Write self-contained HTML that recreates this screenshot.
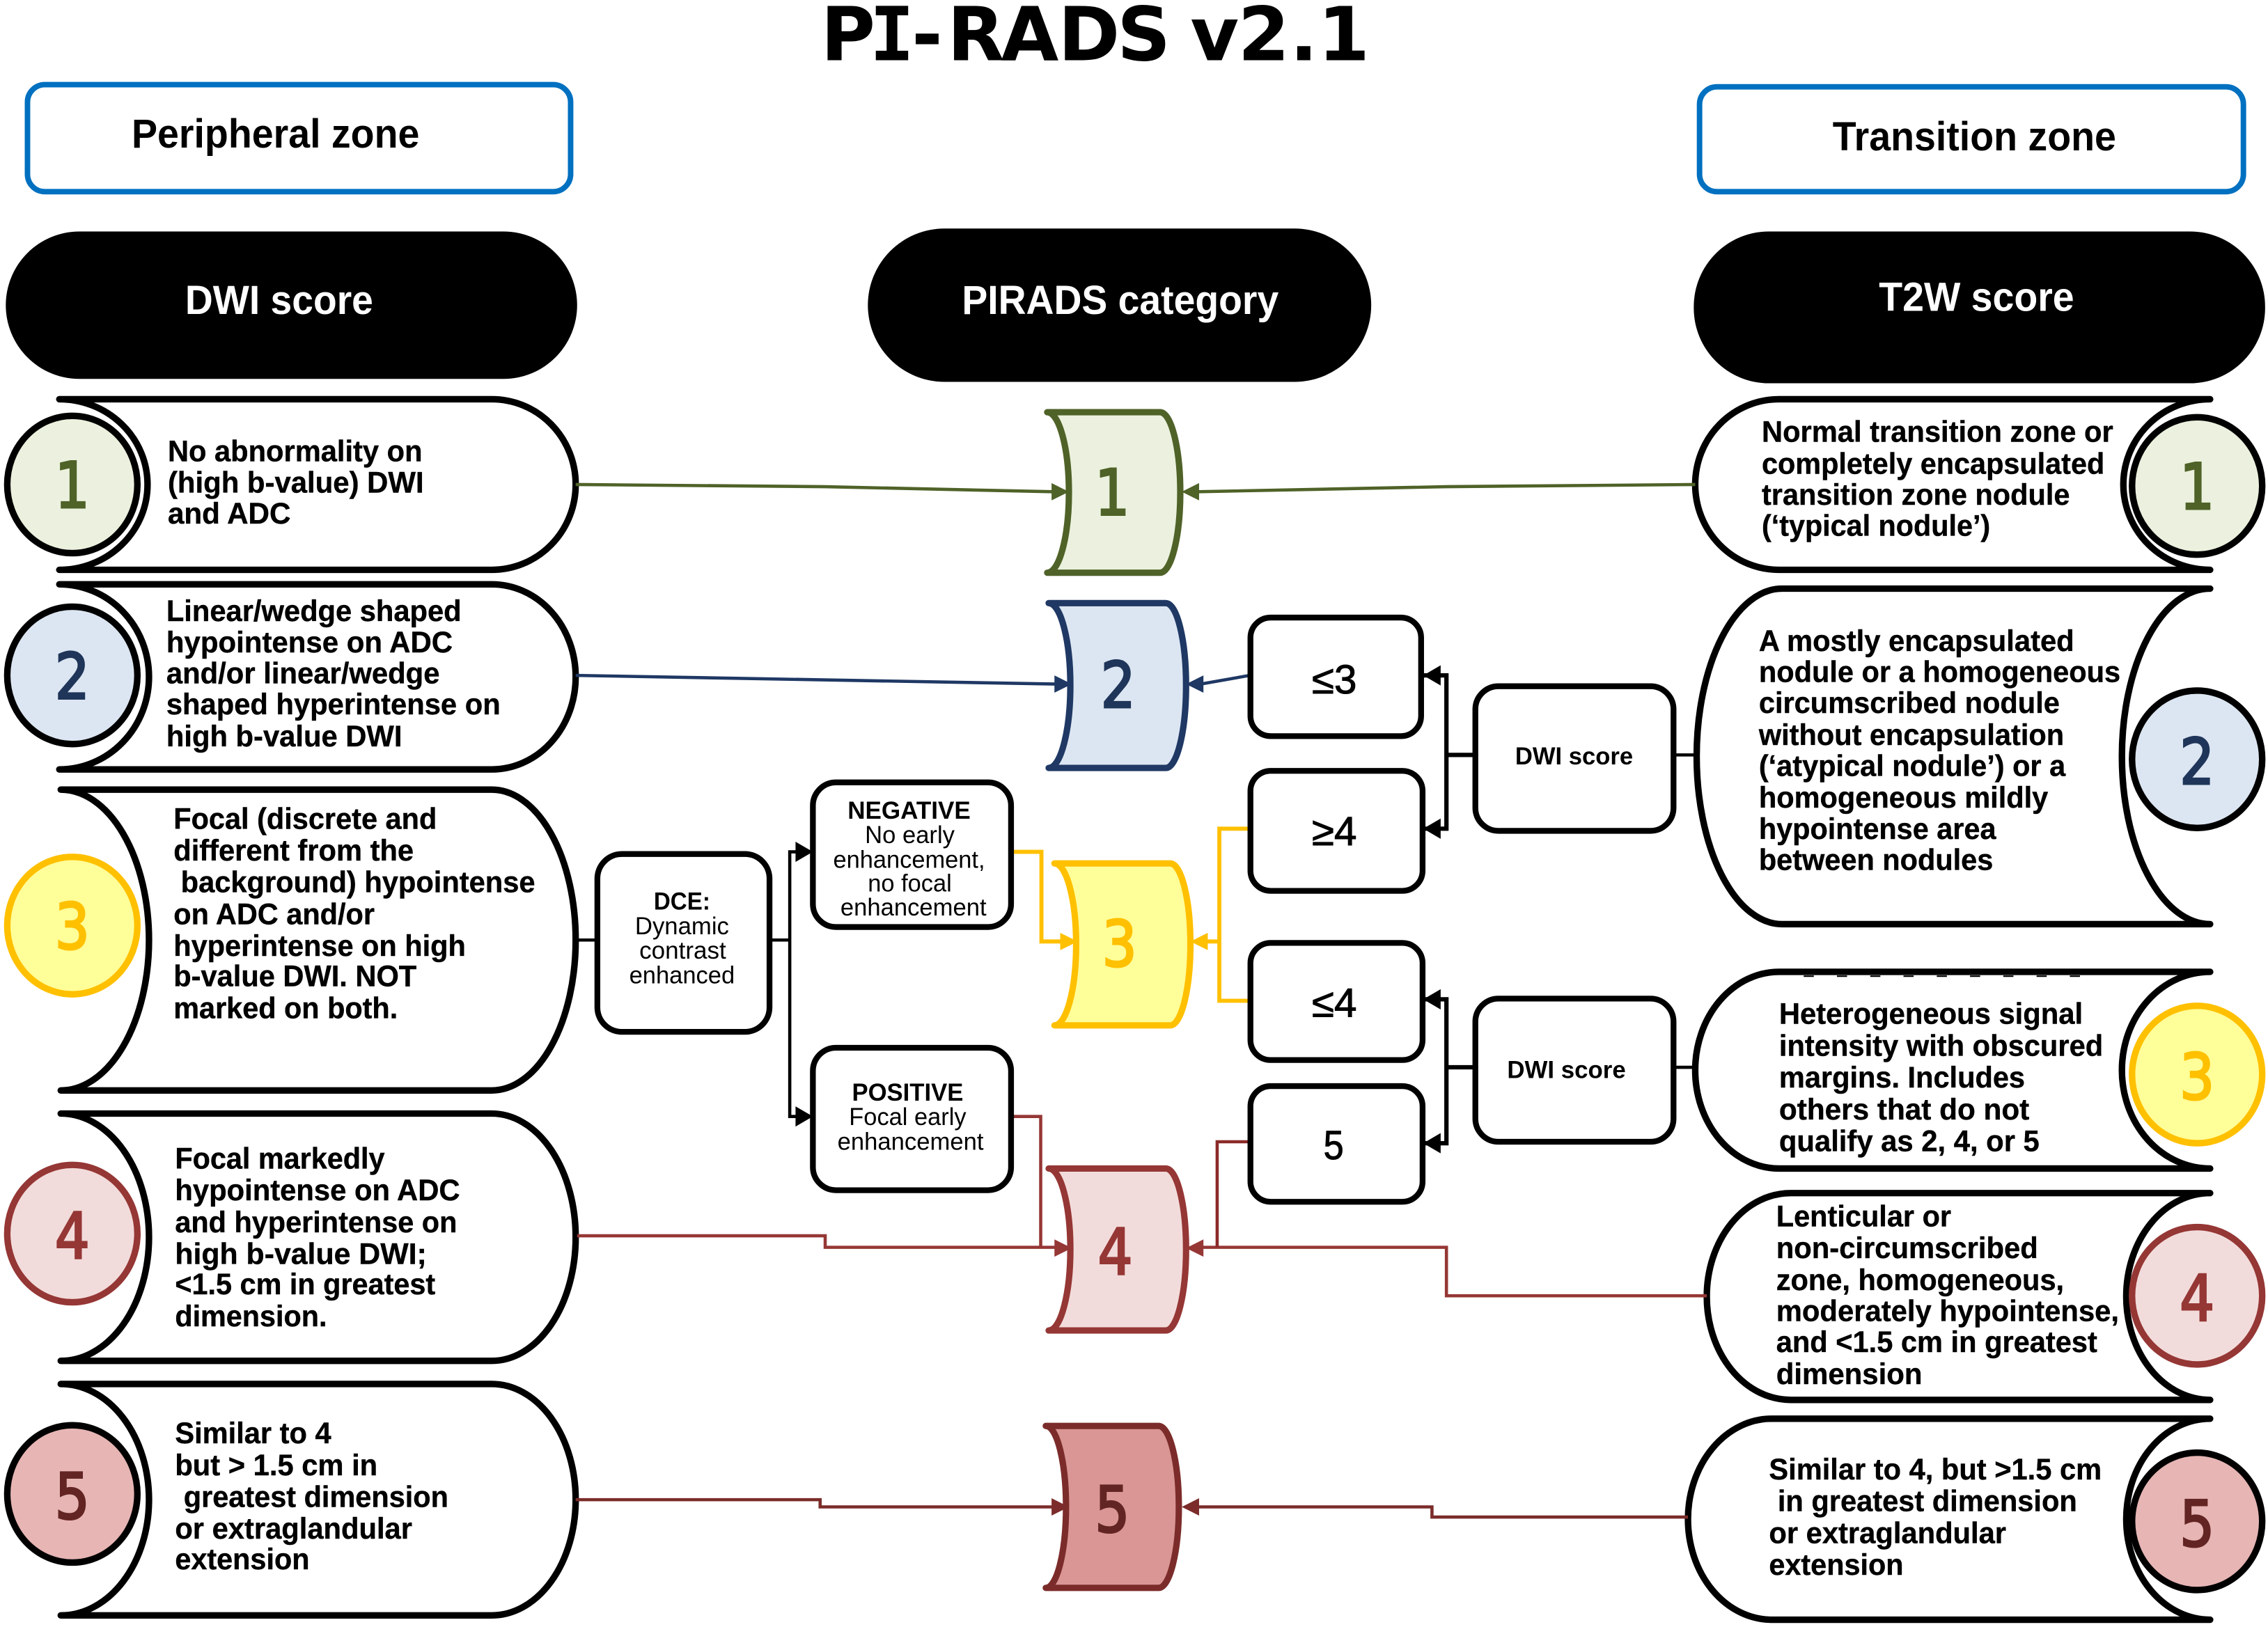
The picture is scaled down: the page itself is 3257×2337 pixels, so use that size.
<!DOCTYPE html>
<html lang="en"><head><meta charset="utf-8"><title>PI-RADS v2.1</title>
<style>
html,body{margin:0;padding:0;background:#fff}
svg{display:block}
text{font-family:"Liberation Sans",sans-serif}
.b{font-weight:bold;font-size:20.5px;fill:#000;stroke:#000;stroke-width:.2}
.h{font-weight:bold;font-size:28px}
text.n{font-family:"DejaVu Sans","Liberation Sans",sans-serif;font-weight:normal;font-size:44px;text-anchor:middle;stroke-width:1.5}
.s{font-size:17px;fill:#000}
.sb{font-size:17px;font-weight:bold;fill:#000}
.c{font-size:28px;fill:#000;stroke:#000;stroke-width:.5}
.sh{fill:#fff;stroke:#000;stroke-width:4.5;stroke-linejoin:round;stroke-linecap:round}
.bx{fill:#fff;stroke:#000;stroke-width:4}
.l{fill:none;stroke-width:2.2}
.cat{stroke-width:4.4;stroke-linejoin:round;stroke-linecap:round}
</style></head><body>
<svg xmlns="http://www.w3.org/2000/svg" width="3257" height="2337" viewBox="0 0 1568 1125">
<rect width="1568" height="1125" fill="#fff"/>
<text x="586.3 616.7 641 674.7 712 752.9 790.8 815 839.7 873.7 901.4 929" y="41.500" font-size="51.500" font-weight="bold" fill="#000" text-anchor="middle" style='font-family:"DejaVu Sans","Liberation Sans",sans-serif'>P<tspan style='font-family:"DejaVu Sans Mono","Liberation Mono",monospace'>I</tspan>-RADS v2.1</text>

<rect x="19" y="58.500" width="375.500" height="74" rx="12" fill="#fff" stroke="#0070c0" stroke-width="3.800"/>
<rect x="1175" y="60" width="376" height="72.500" rx="12" fill="#fff" stroke="#0070c0" stroke-width="3.800"/>
<text class="h" x="91" y="102" textLength="199" lengthAdjust="spacingAndGlyphs">Peripheral zone</text>
<text class="h" x="1267" y="104" textLength="196" lengthAdjust="spacingAndGlyphs">Transition zone</text>

<rect x="4" y="160" width="395" height="102" rx="51" ry="51" fill="#000"/>
<rect x="600" y="158" width="348" height="106" rx="53" ry="53" fill="#000"/>
<rect x="1171" y="160" width="395" height="105" rx="52" ry="52" fill="#000"/>
<text class="h" fill="#fff" x="128" y="217" textLength="130" lengthAdjust="spacingAndGlyphs">DWI score</text>
<text class="h" fill="#fff" x="665" y="217" textLength="219" lengthAdjust="spacingAndGlyphs">PIRADS category</text>
<text class="h" fill="#fff" x="1299" y="215" textLength="135" lengthAdjust="spacingAndGlyphs">T2W score</text>

<!-- left scrolls -->
<path class="sh" d="M41 276H340A58 59 0 0 1 340 394H41A61 59 0 0 0 41 276Z"/>
<path class="sh" d="M41 404H340A58 64 0 0 1 340 532H41A62 64 0 0 0 41 404Z"/>
<path class="sh" d="M42 546H340A58 104 0 0 1 340 754H42A61 104 0 0 0 42 546Z"/>
<path class="sh" d="M42 770H340A58 85.500 0 0 1 340 941H42A61 85.500 0 0 0 42 770Z"/>
<path class="sh" d="M42 957H340A58 80 0 0 1 340 1117H42A61 80 0 0 0 42 957Z"/>
<!-- right scrolls -->
<path class="sh" d="M1528 276H1230A58 59 0 0 0 1230 394H1528A60 59 0 0 1 1528 276Z"/>
<path class="sh" d="M1528 407H1232A59 116 0 0 0 1232 639H1528A61 116 0 0 1 1528 407Z"/>
<path class="sh" d="M1528 672H1230A58 68 0 0 0 1230 808H1528A61 68 0 0 1 1528 672Z"/>
<path class="sh" d="M1528 825H1238A58 71.500 0 0 0 1238 968H1528A58 71.500 0 0 1 1528 825Z"/>
<path class="sh" d="M1528 981H1225A58 69.500 0 0 0 1225 1120H1528A58 69.500 0 0 1 1528 981Z"/>
<line x1="1247" y1="675" x2="1447" y2="675" stroke="#000" stroke-width="1" stroke-dasharray="7 16"/>

<!-- left circles -->
<ellipse cx="50" cy="335" rx="45" ry="47.500" fill="#ebf1de" stroke="#000" stroke-width="4.500"/>
<ellipse cx="50" cy="467" rx="45" ry="47.500" fill="#dce6f2" stroke="#000" stroke-width="4.500"/>
<ellipse cx="50" cy="640" rx="45" ry="47.500" fill="#ffff99" stroke="#ffc000" stroke-width="4.500"/>
<ellipse cx="50" cy="853" rx="45" ry="47.500" fill="#f2dcdb" stroke="#953735" stroke-width="4.500"/>
<ellipse cx="50" cy="1033" rx="45" ry="47.500" fill="#e6b5b4" stroke="#000" stroke-width="4.500"/>
<!-- right circles -->
<ellipse cx="1519" cy="336" rx="45" ry="47.500" fill="#ebf1de" stroke="#000" stroke-width="4.500"/>
<ellipse cx="1519" cy="525" rx="45" ry="47.500" fill="#dce6f2" stroke="#000" stroke-width="4.500"/>
<ellipse cx="1519" cy="743" rx="45" ry="47.500" fill="#ffff99" stroke="#ffc000" stroke-width="4.500"/>
<ellipse cx="1519" cy="896" rx="45" ry="47.500" fill="#f2dcdb" stroke="#953735" stroke-width="4.500"/>
<ellipse cx="1519" cy="1052" rx="45" ry="47.500" fill="#e6b5b4" stroke="#000" stroke-width="4.500"/>

<text class="n" x="50" y="351" fill="#4f6228" stroke="#4f6228" textLength="24" lengthAdjust="spacingAndGlyphs">1</text>
<text class="n" x="50" y="483" fill="#1f3559" stroke="#1f3559" textLength="24" lengthAdjust="spacingAndGlyphs">2</text>
<text class="n" x="50" y="656" fill="#ffc000" stroke="#ffc000" textLength="24" lengthAdjust="spacingAndGlyphs">3</text>
<text class="n" x="50" y="870" fill="#953735" stroke="#953735" textLength="24" lengthAdjust="spacingAndGlyphs">4</text>
<text class="n" x="50" y="1050" fill="#632523" stroke="#632523" textLength="24" lengthAdjust="spacingAndGlyphs">5</text>
<text class="n" x="1519" y="352" fill="#4f6228" stroke="#4f6228" textLength="24" lengthAdjust="spacingAndGlyphs">1</text>
<text class="n" x="1519" y="542" fill="#1f3559" stroke="#1f3559" textLength="24" lengthAdjust="spacingAndGlyphs">2</text>
<text class="n" x="1519" y="760" fill="#ffc000" stroke="#ffc000" textLength="24" lengthAdjust="spacingAndGlyphs">3</text>
<text class="n" x="1519" y="913" fill="#953735" stroke="#953735" textLength="24" lengthAdjust="spacingAndGlyphs">4</text>
<text class="n" x="1519" y="1069" fill="#632523" stroke="#632523" textLength="24" lengthAdjust="spacingAndGlyphs">5</text>

<!-- connectors -->
<path class="l" stroke="#4f6228" d="M398 335L570 336.500L728 340"/>
<path class="l" stroke="#4f6228" d="M1172 335L1000 336.500L828 340"/>
<path class="l" stroke="#1f3864" d="M398 467L730 473"/>
<path class="l" stroke="#1f3864" d="M864 467L830 473"/>
<path class="l" stroke="#000" style="stroke-width:3" d="M1020 522H1000M976 467H1000V573H976"/>
<path class="l" stroke="#000" style="stroke-width:3" d="M1020 738H1000M976 691H1000V790.500H976"/>
<path class="l" stroke="#000" d="M1157 522H1172M1157 738H1172M398 650H413M532 650H546"/>
<path class="l" stroke="#000" d="M554 589H546V772H554"/>
<path class="l" stroke="#ffc000" style="stroke-width:2.800" d="M700 589H720V651H735"/>
<path class="l" stroke="#ffc000" style="stroke-width:2.800" d="M864 573H843V692H864M843 651H832"/>
<path class="l" stroke="#953735" d="M700 772H719.500V862.500"/>
<path class="l" stroke="#953735" d="M399 854.500H570.500V862.500H730"/>
<path class="l" stroke="#953735" d="M1180 896H1000V862.500H830"/>
<path class="l" stroke="#8b2a28" d="M864 789.500H841.500V862.500"/>
<path class="l" stroke="#7b2c2a" d="M398 1037H567V1042H729"/>
<path class="l" stroke="#7b2c2a" d="M1167 1049H990V1042H826"/>

<!-- category shapes -->
<path class="cat" fill="#ebf1de" stroke="#4f6228" d="M724 285H802A14 55.500 0 0 1 802 396H724A15 55.500 0 0 0 724 285Z"/>
<path class="cat" fill="#dce6f2" stroke="#1f3864" d="M725 417H806A14 57 0 0 1 806 531H725A15 57 0 0 0 725 417Z"/>
<path class="cat" fill="#ffff99" stroke="#ffc000" d="M729 597H809A14 56 0 0 1 809 709H729A15 56 0 0 0 729 597Z"/>
<path class="cat" fill="#f2dcdb" stroke="#953735" d="M725 808H806A14 56 0 0 1 806 920H725A15 56 0 0 0 725 808Z"/>
<path class="cat" fill="#d99694" stroke="#7b2c2a" d="M723 986H801A14 56 0 0 1 801 1098H723A14 56 0 0 0 723 986Z"/>
<text class="n" x="769" y="356" fill="#4f6228" stroke="#4f6228" textLength="24" lengthAdjust="spacingAndGlyphs">1</text>
<text class="n" x="773" y="489" fill="#1f3559" stroke="#1f3559" textLength="24" lengthAdjust="spacingAndGlyphs">2</text>
<text class="n" x="774" y="668" fill="#ffc000" stroke="#ffc000" textLength="24" lengthAdjust="spacingAndGlyphs">3</text>
<text class="n" x="771" y="881" fill="#953735" stroke="#953735" textLength="24" lengthAdjust="spacingAndGlyphs">4</text>
<text class="n" x="769" y="1059" fill="#632523" stroke="#632523" textLength="24" lengthAdjust="spacingAndGlyphs">5</text>

<!-- arrowheads -->
<path fill="#4f6228" d="M739 340l-12-6v12zM817 340l12-6v12z"/>
<path fill="#1f3864" d="M741 473l-12-6v12zM820 473l12-6v12z"/>
<path fill="#ffc000" d="M745 651l-12-6v12zM823 651l12-6v12z"/>
<path fill="#953735" d="M741 863l-12-6v12zM820 863l12-6v12z"/>
<path fill="#7b2c2a" d="M739 1042l-12-6v12zM817 1042l12-6v12z"/>
<path fill="#000" d="M984 467l12-7v14zM984 573l12-7v14zM984 691l12-7v14zM984 790.500l12-7v14zM562 589l-12-7v14zM562 772l-12-7v14z"/>

<!-- boxes -->
<rect class="bx" x="864.500" y="427" width="118" height="82" rx="14"/>
<rect class="bx" x="864.500" y="533" width="119" height="83" rx="14"/>
<rect class="bx" x="864.500" y="652" width="119" height="81" rx="14"/>
<rect class="bx" x="864.500" y="751" width="119" height="80" rx="14"/>
<rect class="bx" x="1020" y="474.500" width="137" height="100" rx="16"/>
<rect class="bx" x="1020" y="690.500" width="137" height="99" rx="16"/>
<rect class="bx" x="413" y="590.500" width="119" height="123" rx="17"/>
<rect class="bx" x="562" y="541" width="137" height="100" rx="16"/>
<rect class="bx" x="562" y="724.500" width="137" height="98.500" rx="16"/>

<text class="c" x="907" y="479.500" textLength="31" lengthAdjust="spacingAndGlyphs">≤3</text>
<text class="c" x="907" y="584.500" textLength="31" lengthAdjust="spacingAndGlyphs">≥4</text>
<text class="c" x="907" y="703" textLength="31" lengthAdjust="spacingAndGlyphs">≤4</text>
<text class="c" x="915" y="801.500" textLength="14" lengthAdjust="spacingAndGlyphs">5</text>
<text class="sb" x="1047.500" y="528.500" textLength="81.500" lengthAdjust="spacingAndGlyphs">DWI score</text>
<text class="sb" x="1042" y="745.500" textLength="82" lengthAdjust="spacingAndGlyphs">DWI score</text>

<text class="sb" x="452" y="629" textLength="39" lengthAdjust="spacingAndGlyphs">DCE:</text>
<text class="s" x="439" y="646" textLength="65" lengthAdjust="spacingAndGlyphs">Dynamic</text>
<text class="s" x="442" y="663" textLength="60" lengthAdjust="spacingAndGlyphs">contrast</text>
<text class="s" x="435" y="680" textLength="73" lengthAdjust="spacingAndGlyphs">enhanced</text>
<text class="sb" x="586" y="566" textLength="85" lengthAdjust="spacingAndGlyphs">NEGATIVE</text>
<text class="s" x="598" y="583" textLength="62" lengthAdjust="spacingAndGlyphs">No early</text>
<text class="s" x="576" y="600" textLength="105" lengthAdjust="spacingAndGlyphs">enhancement,</text>
<text class="s" x="600" y="616.500" textLength="58" lengthAdjust="spacingAndGlyphs">no focal</text>
<text class="s" x="581" y="633" textLength="101" lengthAdjust="spacingAndGlyphs">enhancement</text>
<text class="sb" x="589" y="761" textLength="77" lengthAdjust="spacingAndGlyphs">POSITIVE</text>
<text class="s" x="587" y="778" textLength="81" lengthAdjust="spacingAndGlyphs">Focal early</text>
<text class="s" x="579" y="795" textLength="101" lengthAdjust="spacingAndGlyphs">enhancement</text>

<!-- left text -->
<text class="b" x="116" y="319" textLength="176" lengthAdjust="spacingAndGlyphs">No abnormality on</text>
<text class="b" x="116" y="340.500" textLength="177" lengthAdjust="spacingAndGlyphs">(high b-value) DWI</text>
<text class="b" x="116" y="362" textLength="85" lengthAdjust="spacingAndGlyphs">and ADC</text>

<text class="b" x="115" y="429.500" textLength="204" lengthAdjust="spacingAndGlyphs">Linear/wedge shaped</text>
<text class="b" x="115" y="451" textLength="198" lengthAdjust="spacingAndGlyphs">hypointense on ADC</text>
<text class="b" x="115" y="472.500" textLength="189" lengthAdjust="spacingAndGlyphs">and/or linear/wedge</text>
<text class="b" x="115" y="494" textLength="231" lengthAdjust="spacingAndGlyphs">shaped hyperintense on</text>
<text class="b" x="115" y="516" textLength="163" lengthAdjust="spacingAndGlyphs">high b-value DWI</text>

<text class="b" x="120" y="573" textLength="182" lengthAdjust="spacingAndGlyphs">Focal (discrete and</text>
<text class="b" x="120" y="595" textLength="166" lengthAdjust="spacingAndGlyphs">different from the</text>
<text class="b" x="125" y="617" textLength="245" lengthAdjust="spacingAndGlyphs">background) hypointense</text>
<text class="b" x="120" y="639" textLength="139" lengthAdjust="spacingAndGlyphs">on ADC and/or</text>
<text class="b" x="120" y="661" textLength="202" lengthAdjust="spacingAndGlyphs">hyperintense on high</text>
<text class="b" x="120" y="682" textLength="168" lengthAdjust="spacingAndGlyphs">b-value DWI. NOT</text>
<text class="b" x="120" y="704" textLength="155" lengthAdjust="spacingAndGlyphs">marked on both.</text>

<text class="b" x="121" y="808" textLength="145" lengthAdjust="spacingAndGlyphs">Focal markedly</text>
<text class="b" x="121" y="830" textLength="197" lengthAdjust="spacingAndGlyphs">hypointense on ADC</text>
<text class="b" x="121" y="852" textLength="195" lengthAdjust="spacingAndGlyphs">and hyperintense on</text>
<text class="b" x="121" y="874" textLength="174" lengthAdjust="spacingAndGlyphs">high b-value DWI;</text>
<text class="b" x="121" y="895" textLength="180" lengthAdjust="spacingAndGlyphs">&lt;1.5 cm in greatest</text>
<text class="b" x="121" y="917" textLength="105" lengthAdjust="spacingAndGlyphs">dimension.</text>

<text class="b" x="121" y="998" textLength="108" lengthAdjust="spacingAndGlyphs">Similar to 4</text>
<text class="b" x="121" y="1020" textLength="140" lengthAdjust="spacingAndGlyphs">but &gt; 1.5 cm in</text>
<text class="b" x="127" y="1042" textLength="183" lengthAdjust="spacingAndGlyphs">greatest dimension</text>
<text class="b" x="121" y="1064" textLength="164" lengthAdjust="spacingAndGlyphs">or extraglandular</text>
<text class="b" x="121" y="1085" textLength="93" lengthAdjust="spacingAndGlyphs">extension</text>

<!-- right text -->
<text class="b" x="1218" y="305.500" textLength="243" lengthAdjust="spacingAndGlyphs">Normal transition zone or</text>
<text class="b" x="1218" y="327.500" textLength="237" lengthAdjust="spacingAndGlyphs">completely encapsulated</text>
<text class="b" x="1218" y="349" textLength="213" lengthAdjust="spacingAndGlyphs">transition zone nodule</text>
<text class="b" x="1218" y="370.500" textLength="158" lengthAdjust="spacingAndGlyphs">(‘typical nodule’)</text>

<text class="b" x="1216" y="450" textLength="218" lengthAdjust="spacingAndGlyphs">A mostly encapsulated</text>
<text class="b" x="1216" y="471.500" textLength="250" lengthAdjust="spacingAndGlyphs">nodule or a homogeneous</text>
<text class="b" x="1216" y="493" textLength="208" lengthAdjust="spacingAndGlyphs">circumscribed nodule</text>
<text class="b" x="1216" y="515" textLength="211" lengthAdjust="spacingAndGlyphs">without encapsulation</text>
<text class="b" x="1216" y="536.500" textLength="212" lengthAdjust="spacingAndGlyphs">(‘atypical nodule’) or a</text>
<text class="b" x="1216" y="558.500" textLength="200" lengthAdjust="spacingAndGlyphs">homogeneous mildly</text>
<text class="b" x="1216" y="580" textLength="164" lengthAdjust="spacingAndGlyphs">hypointense area</text>
<text class="b" x="1216" y="601.500" textLength="162" lengthAdjust="spacingAndGlyphs">between nodules</text>

<text class="b" x="1230" y="708" textLength="210" lengthAdjust="spacingAndGlyphs">Heterogeneous signal</text>
<text class="b" x="1230" y="730" textLength="224" lengthAdjust="spacingAndGlyphs">intensity with obscured</text>
<text class="b" x="1230" y="752" textLength="170" lengthAdjust="spacingAndGlyphs">margins. Includes</text>
<text class="b" x="1230" y="774" textLength="173" lengthAdjust="spacingAndGlyphs">others that do not</text>
<text class="b" x="1230" y="796" textLength="180" lengthAdjust="spacingAndGlyphs">qualify as 2, 4, or 5</text>

<text class="b" x="1228" y="848" textLength="121" lengthAdjust="spacingAndGlyphs">Lenticular or</text>
<text class="b" x="1228" y="870" textLength="181" lengthAdjust="spacingAndGlyphs">non-circumscribed</text>
<text class="b" x="1228" y="892" textLength="199" lengthAdjust="spacingAndGlyphs">zone, homogeneous,</text>
<text class="b" x="1228" y="913.500" textLength="237" lengthAdjust="spacingAndGlyphs">moderately hypointense,</text>
<text class="b" x="1228" y="935" textLength="222" lengthAdjust="spacingAndGlyphs">and &lt;1.5 cm in greatest</text>
<text class="b" x="1228" y="957" textLength="101" lengthAdjust="spacingAndGlyphs">dimension</text>

<text class="b" x="1223" y="1023" textLength="230" lengthAdjust="spacingAndGlyphs">Similar to 4, but &gt;1.5 cm</text>
<text class="b" x="1229" y="1045" textLength="207" lengthAdjust="spacingAndGlyphs">in greatest dimension</text>
<text class="b" x="1223" y="1067" textLength="164" lengthAdjust="spacingAndGlyphs">or extraglandular</text>
<text class="b" x="1223" y="1089" textLength="93" lengthAdjust="spacingAndGlyphs">extension</text>
</svg>
</body></html>
